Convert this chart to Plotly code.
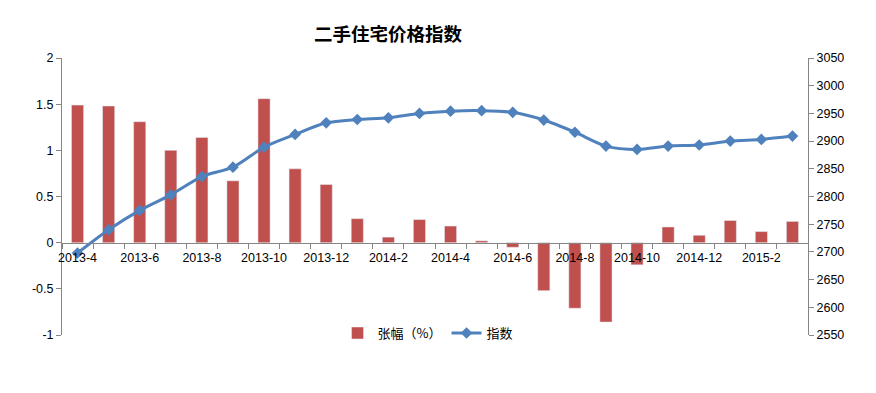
import plotly.graph_objects as go

months = ["2013-4","2013-5","2013-6","2013-7","2013-8","2013-9","2013-10","2013-11","2013-12",
          "2014-1","2014-2","2014-3","2014-4","2014-5","2014-6","2014-7","2014-8","2014-9",
          "2014-10","2014-11","2014-12","2015-1","2015-2","2015-3"]
change_pct = [1.49, 1.48, 1.31, 1.00, 1.14, 0.67, 1.56, 0.80, 0.63,
              0.26, 0.06, 0.25, 0.18, 0.02, -0.05, -0.52, -0.71, -0.86,
              -0.24, 0.17, 0.08, 0.24, 0.12, 0.23]
index_vals = [2698, 2740, 2775, 2803, 2836, 2853, 2889, 2912, 2933,
              2939, 2942, 2950, 2954, 2955, 2952, 2938, 2916, 2891,
              2885, 2891, 2893, 2900, 2903, 2909]
tick_labels = [m if i % 2 == 0 else "" for i, m in enumerate(months)]
left_ticks = [-1, -0.5, 0, 0.5, 1, 1.5, 2]
left_tick_text = ["-1", "-0.5", "0", "0.5", "1", "1.5", "2"]

BAR = "#C0504D"
LINE = "#4F81BD"
AX = "#868686"
FONT = "Liberation Sans, Arial, Noto Sans CJK SC, sans-serif"

fig = go.Figure()
fig.add_trace(go.Bar(x=months, y=change_pct, name="张幅（%）", marker_color=BAR,
                     width=0.39, yaxis="y"))
fig.add_trace(go.Scatter(x=months, y=index_vals, name="指数", mode="lines+markers",
                         line=dict(color=LINE, width=3, shape="spline", smoothing=0.8),
                         marker=dict(symbol="diamond", size=9, color=LINE),
                         yaxis="y2"))

fig.update_layout(
    width=876, height=393,
    margin=dict(l=54, r=76, t=50, b=66, autoexpand=False),
    paper_bgcolor="white", plot_bgcolor="white",
    font=dict(family=FONT, size=12, color="#000000"),
    title=dict(text="<b>二手住宅价格指数</b>", x=380/876, xanchor="center", y=1-27/393, yanchor="middle",
               font=dict(family="Noto Sans CJK SC, sans-serif", size=18.5, color="#000000")),
    showlegend=True,
    legend=dict(orientation="h", x=0.49, xanchor="center", y=0.007, yanchor="middle",
                font=dict(family="Noto Sans CJK SC, sans-serif", size=13), bgcolor="rgba(0,0,0,0)"),
    xaxis=dict(type="category", categoryorder="array", categoryarray=months,
               range=[-0.5, len(months) - 0.5],
               tickmode="array", tickvals=months, ticktext=tick_labels, tickangle=0,
               tickson="boundaries", ticks="outside", ticklen=5, tickcolor=AX,
               ticklabelstandoff=3,
               showline=True, linecolor=AX, linewidth=1, showgrid=False,
               anchor="free", position=(335-243)/277, zeroline=False, automargin=False,
               tickfont=dict(size=12.5)),
    yaxis=dict(range=[-1, 2], tickmode="array", tickvals=left_ticks, ticktext=left_tick_text,
               showgrid=False, zeroline=False, automargin=False,
               showline=True, linecolor=AX, linewidth=1, ticks="outside", ticklen=5, tickcolor=AX,
               tickfont=dict(size=12.5)),
    yaxis2=dict(range=[2550, 3050], dtick=50, overlaying="y", side="right", showgrid=False,
                zeroline=False, showline=True, linecolor=AX, linewidth=1, ticks="outside",
                ticklen=5, tickcolor=AX, tickfont=dict(size=12.5), automargin=False),
    bargap=0.6,
)

fig.write_html("out.html")
